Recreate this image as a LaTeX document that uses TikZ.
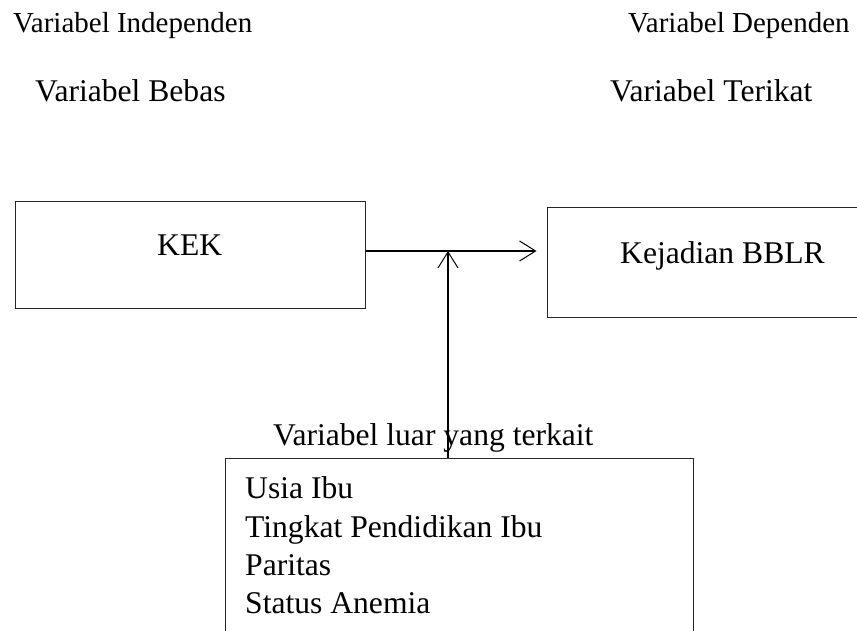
\documentclass[tikz,border=0pt]{standalone}
\usepackage{fontspec}
\setmainfont{Liberation Serif}
\usetikzlibrary{arrows.meta}
\begin{document}
\begin{tikzpicture}[x=1pt,y=-1pt,
  box/.style={draw=black!85, line width=1pt, inner sep=0pt},
  txt/.style={inner sep=0pt, anchor=base west},
  big/.style={font=\fontsize{31.6}{38.3}\selectfont},
  small/.style={font=\fontsize{29}{35}\selectfont},
  arr/.style={line width=1.2pt, -{Straight Barb[length=16pt,width=20pt,line width=1pt]}}]
\clip (0,0) rectangle (857,631);
% headings
\node[txt,small] (indep) at (13,33) {Variabel Independen};
\node[txt,big]   (bebas) at (35,102) {Variabel Bebas};
\node[txt,small] (dep)   at (628,33) {Variabel Dependen};
\node[txt,big]   (terikat) at (610,102) {Variabel Terikat};
% boxes
\node[box, minimum width=350pt, minimum height=107pt] (kek) at (190,255.4) {};
\node[txt,big] (kekt) at (157,256) {KEK};
\node[box, minimum width=351pt, minimum height=109pt] (bblr) at (722.5,262.5) {};
\node[txt,big] (bblrt) at (620,263) {Kejadian BBLR};
\node[box, minimum width=468pt, minimum height=220pt] (ext) at (459,568) {};
\node[txt,big] (extt) at (273,445) {Variabel luar yang terkait};
\node[big, inner sep=0pt, anchor=north west, align=left] (list) at (245,476.6)
  {Usia Ibu\\Tingkat Pendidikan Ibu\\Paritas\\Status Anemia};
% connectors
\coordinate (j) at (448,251);
\draw[arr, shorten >=10pt] (kek.east |- j) -- (bblr.west |- j);
\draw[arr] (ext.north -| j) -- (j);
\end{tikzpicture}
\end{document}
